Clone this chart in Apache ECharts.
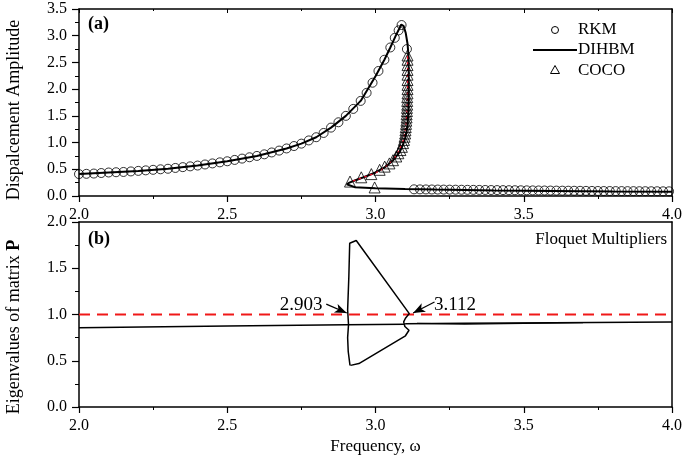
<!DOCTYPE html>
<html><head><meta charset="utf-8">
<script src="https://cdn.jsdelivr.net/npm/echarts@6/dist/echarts.min.js"></script>
<style>html,body{margin:0;padding:0;background:#fff}#c{width:685px;height:462px}</style>
</head><body><div id="c"></div>
<script>
// ---------- Panel (a): displacement amplitude ----------
const xTicks = [2.0, 2.5, 3.0, 3.5, 4.0];
const dihbmW = [2.00,2.10,2.20,2.30,2.40,2.50,2.60,2.70,2.75,2.80,2.85,2.90,2.95,3.00,3.03,3.05,3.07,3.080,3.087,3.095,3.102,3.108,3.111,3.112,3.112,3.111,3.108,3.102,3.093,3.080,3.060,3.035,3.000,2.960,2.930,2.912,2.903,2.900,2.930,3.000,3.100,3.200,3.400,3.600,3.800,4.000];
const dihbmA = [0.41,0.44,0.47,0.51,0.57,0.65,0.75,0.89,0.98,1.10,1.28,1.50,1.78,2.24,2.55,2.78,3.02,3.13,3.21,3.18,3.05,2.85,2.65,2.30,1.90,1.60,1.32,1.12,0.96,0.81,0.67,0.55,0.44,0.35,0.29,0.25,0.22,0.20,0.165,0.145,0.13,0.12,0.105,0.095,0.085,0.08];

const rkmUpW = [2.000,2.025,2.050,2.075,2.100,2.125,2.150,2.175,2.200,2.225,2.250,2.275,2.300,2.325,2.350,2.375,2.400,2.425,2.450,2.475,2.500,2.525,2.550,2.575,2.600,2.625,2.650,2.675,2.700,2.725,2.750,2.775,2.800,2.825,2.850,2.875,2.900,2.925,2.950,2.970,2.990,3.010,3.030,3.050,3.065,3.078,3.088,3.106];
const rkmUpA = [0.41,0.415,0.42,0.43,0.44,0.445,0.45,0.46,0.47,0.48,0.49,0.50,0.51,0.525,0.54,0.555,0.57,0.59,0.61,0.63,0.65,0.675,0.70,0.725,0.75,0.78,0.815,0.85,0.89,0.935,0.98,1.04,1.10,1.18,1.28,1.38,1.50,1.63,1.78,1.93,2.12,2.34,2.55,2.78,2.96,3.10,3.20,2.75];
const rkmLowW = [3.13,3.15,3.17,3.19,3.21,3.23,3.25,3.27,3.29,3.31,3.33,3.35,3.37,3.39,3.41,3.43,3.45,3.47,3.49,3.51,3.53,3.55,3.57,3.59,3.61,3.63,3.65,3.67,3.69,3.71,3.73,3.75,3.77,3.79,3.81,3.83,3.85,3.87,3.89,3.91,3.93,3.95,3.97,3.99];
const rkmLowA = [0.125,0.124,0.123,0.122,0.121,0.12,0.119,0.118,0.117,0.116,0.115,0.114,0.113,0.112,0.111,0.11,0.109,0.108,0.107,0.106,0.105,0.104,0.103,0.102,0.101,0.1,0.099,0.098,0.097,0.096,0.095,0.094,0.093,0.093,0.092,0.092,0.091,0.091,0.09,0.09,0.089,0.089,0.088,0.088];

const cocoW = [2.914,2.952,2.986,3.014,3.031,3.047,3.059,3.070,3.077,3.084,3.089,3.093,3.096,3.098,3.100,3.101,3.102,3.103,3.104,3.105,3.105,3.106,3.106,3.107,3.107,3.107,3.108,3.108,3.108,3.108,3.108,3.108,3.108,3.108,3.108,2.997];
const cocoA = [0.27,0.35,0.41,0.49,0.55,0.61,0.67,0.74,0.80,0.86,0.92,0.99,1.05,1.11,1.17,1.23,1.29,1.35,1.41,1.47,1.53,1.59,1.65,1.71,1.78,1.85,1.92,2.00,2.08,2.17,2.27,2.36,2.45,2.55,2.63,0.16];
const cocoUnW = [3.108,3.108,3.106,3.102,3.094,3.082,3.065,3.045,3.020,2.990,2.955,2.918];
const cocoUnA = [2.62,2.00,1.60,1.30,1.05,0.88,0.72,0.60,0.49,0.41,0.34,0.27];

// ---------- Panel (b): Floquet multipliers ----------
const thrW = [2.0, 4.0];
const thrV = [1.0, 1.0];
const leftW = [2.0, 2.5, 2.9, 3.1];
const leftV = [0.857, 0.875, 0.888, 0.895];
const loopW = [2.914,2.908,2.906,2.909,2.906,2.910,2.913,2.935,3.114,3.101,3.095,3.099,3.113,3.101,2.944,2.916,2.914];
const loopV = [0.45,0.60,0.75,0.89,1.05,1.40,1.77,1.80,1.01,0.96,0.92,0.87,0.83,0.77,0.47,0.45,0.45];
const rightW = [3.100,3.300,3.600,4.000];
const rightV = [0.900,0.905,0.912,0.920];
const sliverW = [3.140,3.140,3.300,3.500,3.700];
const sliverV = [0.903,0.886,0.895,0.905,0.913];
const annoText = ['2.903', '3.112'];
const annoTextPos = [[2.749,1.103],[3.268,1.103]];
const annoArrowFrom = [[2.834,1.113],[3.199,1.135]];
const annoArrowTo = [[2.903,1.016],[3.127,1.016]];

const zip = (a,b) => a.map((v,i) => [v, b[i]]);
const FONT = '"Liberation Serif","Times New Roman",serif';
const fmt = v => v.toFixed(1);

function bottomX(grid) {
  return {
    type:'value', gridIndex:grid, min:2, max:4, interval:0.5, position:'bottom',
    axisLine:{show:true, onZero:false, lineStyle:{color:'#000', width:1.5}},
    axisTick:{show:true, length:6, lineStyle:{color:'#000', width:1.2}},
    minorTick:{show:true, splitNumber:2, length:3, lineStyle:{color:'#000', width:1}},
    axisLabel:{show:true, formatter:fmt, fontFamily:FONT, fontSize:16, color:'#000', margin:11},
    splitLine:{show:false}
  };
}
function topX(grid, ticks) {
  return {
    type:'value', gridIndex:grid, min:2, max:4, interval:0.5, position:'top',
    axisLine:{show:true, onZero:false, lineStyle:{color:'#000', width:1.5}},
    axisTick:{show:ticks, inside:true, length:4, lineStyle:{color:'#000', width:1}},
    minorTick:{show:ticks, splitNumber:2, length:2, lineStyle:{color:'#000', width:1}},
    axisLabel:{show:false}, splitLine:{show:false}
  };
}
function leftY(grid, max) {
  return {
    type:'value', gridIndex:grid, min:0, max:max, interval:0.5, position:'left',
    axisLine:{show:true, onZero:false, lineStyle:{color:'#000', width:1.5}},
    axisTick:{show:true, length:7, lineStyle:{color:'#000', width:1.2}},
    minorTick:{show:true, splitNumber:2, length:4, lineStyle:{color:'#000', width:1}},
    axisLabel:{show:true, formatter:fmt, fontFamily:FONT, fontSize:16, color:'#000', margin:12},
    splitLine:{show:false}
  };
}
function rightY(grid, max) {
  return {
    type:'value', gridIndex:grid, min:0, max:max, interval:0.5, position:'right',
    axisLine:{show:true, onZero:false, lineStyle:{color:'#000', width:1.5}},
    axisTick:{show:false}, axisLabel:{show:false}, splitLine:{show:false}
  };
}

const chart = echarts.init(document.getElementById('c'), null, {renderer:'canvas'});
const blackLine = {color:'#000', width:2};

chart.setOption({
  animation:false,
  backgroundColor:'#fff',
  grid:[
    {left:79, top:9, width:597, height:187},
    {left:79, top:222, width:597, height:185}
  ],
  xAxis:[
    bottomX(0), topX(0, true),
    Object.assign(bottomX(1), {name:'Frequency, ω', nameLocation:'middle', nameGap:31,
      nameTextStyle:{fontFamily:FONT, fontSize:17, color:'#000'}}),
    topX(1, false)
  ],
  yAxis:[ leftY(0, 3.5), rightY(0, 3.5), leftY(1, 2.0), rightY(1, 2.0) ],
  series:[
    {type:'line', name:'DIHBM', xAxisIndex:0, yAxisIndex:0, data:zip(dihbmW, dihbmA),
      symbol:'none', lineStyle:blackLine, z:2},
    {type:'line', name:'COCO unstable', xAxisIndex:0, yAxisIndex:0, data:zip(cocoUnW, cocoUnA),
      symbol:'none', lineStyle:{color:'#e8102a', width:1.3, type:[3,3]}, z:3},
    {type:'scatter', name:'RKM', xAxisIndex:0, yAxisIndex:0, data:zip(rkmUpW, rkmUpA).concat(zip(rkmLowW, rkmLowA)),
      symbol:'circle', symbolSize:9, itemStyle:{color:'rgba(0,0,0,0)', borderColor:'#000', borderWidth:1}, z:4},
    {type:'scatter', name:'COCO', xAxisIndex:0, yAxisIndex:0, data:zip(cocoW, cocoA),
      symbol:'triangle', symbolSize:11, itemStyle:{color:'rgba(0,0,0,0)', borderColor:'#000', borderWidth:1}, z:4},

    {type:'line', name:'threshold', xAxisIndex:2, yAxisIndex:2, data:zip(thrW, thrV),
      symbol:'none', lineStyle:{color:'#f01818', width:2, type:[11,7]}, z:2,
      markLine:{silent:true, symbol:['none','arrow'], symbolSize:[7,12], animation:false,
        lineStyle:{color:'#000', type:'solid', width:1.3}, label:{show:false},
        data: annoArrowFrom.map((f,i)=>[{coord:f},{coord:annoArrowTo[i]}])},
      markPoint:{silent:true, symbol:'circle', symbolSize:1, itemStyle:{color:'rgba(0,0,0,0)'},
        label:{show:true, position:'inside', formatter:'{b}', fontFamily:FONT, fontSize:19, color:'#000'},
        data: annoText.map((t,i)=>({name:t, coord:annoTextPos[i]}))}
    },
    {type:'line', xAxisIndex:2, yAxisIndex:2, data:zip(leftW, leftV), symbol:'none', lineStyle:{color:'#000', width:1.5}, z:3},
    {type:'line', xAxisIndex:2, yAxisIndex:2, data:zip(loopW, loopV), symbol:'none', lineStyle:{color:'#000', width:1.5}, z:3},
    {type:'line', xAxisIndex:2, yAxisIndex:2, data:zip(rightW, rightV), symbol:'none', lineStyle:{color:'#000', width:1.5}, z:3},
    {type:'line', xAxisIndex:2, yAxisIndex:2, data:zip(sliverW, sliverV), symbol:'none', lineStyle:{color:'#000', width:1.2}, z:3}
  ],
  graphic:[
    {type:'text', x:14, y:110, rotation:Math.PI/2,
      style:{text:'Dispalcement Amplitude', font:'18px ' + FONT, fill:'#000', align:'center', verticalAlign:'middle', textAlign:'center', textVerticalAlign:'middle'}},
    {type:'text', x:14, y:327, rotation:Math.PI/2,
      style:{text:'Eigenvalues of matrix {b|P}', font:'18px ' + FONT, fill:'#000', align:'center', verticalAlign:'middle', textAlign:'center', textVerticalAlign:'middle',
        rich:{b:{fontFamily:FONT, fontSize:18, fontWeight:'bold', fill:'#000'}}}},
    {type:'text', x:88, y:24, style:{text:'(a)', font:'bold 18px ' + FONT, fill:'#000', align:'left', verticalAlign:'middle', textAlign:'left', textVerticalAlign:'middle'}},
    {type:'text', x:88, y:239, style:{text:'(b)', font:'bold 18px ' + FONT, fill:'#000', align:'left', verticalAlign:'middle', textAlign:'left', textVerticalAlign:'middle'}},
    {type:'text', x:667, y:240, style:{text:'Floquet Multipliers', font:'17px ' + FONT, fill:'#000', align:'right', verticalAlign:'middle', textAlign:'right', textVerticalAlign:'middle'}},
    // legend
    {type:'circle', shape:{cx:555, cy:30, r:3.5}, style:{fill:'none', stroke:'#000', lineWidth:1}},
    {type:'line', shape:{x1:533, y1:50, x2:577, y2:50}, style:{stroke:'#000', lineWidth:2}},
    {type:'polygon', shape:{points:[[555,65.5],[559.5,73.5],[550.5,73.5]]}, style:{fill:'none', stroke:'#000', lineWidth:1}},
    {type:'text', x:578, y:30, style:{text:'RKM', font:'17px ' + FONT, fill:'#000', align:'left', verticalAlign:'middle', textAlign:'left', textVerticalAlign:'middle'}},
    {type:'text', x:578, y:50, style:{text:'DIHBM', font:'17px ' + FONT, fill:'#000', align:'left', verticalAlign:'middle', textAlign:'left', textVerticalAlign:'middle'}},
    {type:'text', x:578, y:71, style:{text:'COCO', font:'17px ' + FONT, fill:'#000', align:'left', verticalAlign:'middle', textAlign:'left', textVerticalAlign:'middle'}}
  ]
});
</script>
</body></html>
